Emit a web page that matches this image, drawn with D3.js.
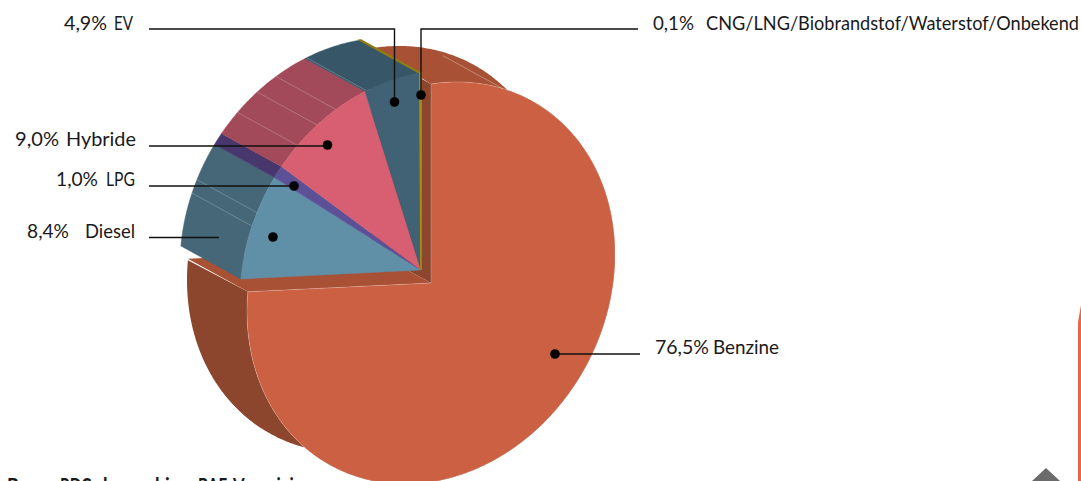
<!DOCTYPE html>
<html>
<head>
<meta charset="utf-8">
<script src="https://cdn.jsdelivr.net/npm/d3@7"></script>
<style>
  html, body { margin: 0; padding: 0; background: #fff; overflow: hidden; }
  text { font-family: Lato, sans-serif; font-size: 19px; fill: #1a1a1a; }
</style>
</head>
<body>
<div id="chart"></div>
<script>
// data, in pie order (clockwise from 12 o'clock)
let categories = ["Benzine", "Diesel", "LPG", "Hybride", "EV", "CNG/LNG/Biobrandstof/Waterstof/Onbekend"]
let shares = [76.5, 8.4, 1.0, 9.0, 4.9, 0.1]
let shareLabels = ["76,5%", "8,4%", "1,0%", "9,0%", "4,9%", "0,1%"]

let faceColors = ["#cb6042", "#6090a8", "#5c5096", "#d75f71", "#416274", "#a8900f"]
let wallColors = ["#a95135", "#456777", "#48376c", "#a24a59", "#375667", "#8f7d10"]
let benzineDark = "#8b462d"

let width = 1081, height = 481
let svg = d3.select("#chart").append("svg")
  .attr("width", width)
  .attr("height", height)
  .style("display", "block")

// pie angles
let arcs = d3.pie().sort(null)(shares)

// the picture is a sheared pie, extruded up and to the left
let depth = [-60, -33]
function projector(cx, cy, rx, ry) {
  return function (angle, r = 1) {
    let ux = Math.sin(angle) * r, uy = -Math.cos(angle) * r
    return [cx + rx * ux, cy + ry * uy - 28.6 * ux]
  }
}
let projBenzine = projector(431, 283, 184, 199)
let projSlices = projector(421, 270, 181, 197)
let line = d3.line()

function arcPoints(proj, a0, a1) {
  let n = Math.max(2, Math.ceil((a1 - a0) / 0.01))
  return d3.range(n + 1).map(i => proj(a0 + (a1 - a0) * i / n))
}
function back(p, nudge = [0, 0]) { return [p[0] + depth[0] + nudge[0], p[1] + depth[1] + nudge[1]] }
function facePath(proj, a0, a1) {
  return line([proj(0, 0), ...arcPoints(proj, a0, a1)]) + "Z"
}
// nudge widens the thin sliver of rim that shows near the tangent points
function wallPath(proj, a0, a1, nudge) {
  let pts = arcPoints(proj, a0, a1)
  return line([...pts, ...pts.slice().reverse().map(p => back(p, nudge))]) + "Z"
}
function sidePath(proj, a) {
  let c = proj(0, 0), e = proj(a)
  return line([c, e, back(e), back(c)]) + "Z"
}
function rimLine(proj, deg) {
  let p = proj(deg * Math.PI / 180)
  return line([p, back(p)])
}

let edge = "rgba(255,255,255,0.3)"

// benzine body: walls first, face on top
let b = arcs[0]
let body = svg.append("g")
body.append("path").attr("d", wallPath(projBenzine, b.startAngle, 2.1, [2, -3])).attr("fill", wallColors[0])
body.append("path").attr("d", wallPath(projBenzine, 2.1, b.endAngle, [0, 1.5])).attr("fill", benzineDark)
body.append("path").attr("d", sidePath(projBenzine, b.startAngle)).attr("fill", benzineDark)
body.append("path").attr("d", sidePath(projBenzine, b.endAngle)).attr("fill", wallColors[0])
body.append("path").attr("d", rimLine(projBenzine, 23)).attr("stroke", edge).attr("fill", "none")
body.append("path").attr("d", facePath(projBenzine, b.startAngle, b.endAngle))
  .attr("fill", faceColors[0]).attr("stroke", edge).attr("stroke-width", 0.7)

// the other slices, pulled out of the pie
let slices = svg.append("g")
let pulled = arcs.slice(1)
slices.selectAll(".wall").data(pulled).enter().append("path")
  .attr("class", "wall")
  .attr("d", d => wallPath(projSlices, d.startAngle, d.endAngle))
  .attr("fill", d => wallColors[d.index])
  .attr("stroke", d => wallColors[d.index])
  .attr("stroke-width", d => d.index == 5 ? 1.6 : 0.5)

let facetDegrees = [291, 295, 317, 325, 332, 342.5]
slices.selectAll(".facet").data(facetDegrees).enter().append("path")
  .attr("class", "facet")
  .attr("d", d => rimLine(projSlices, d))
  .attr("stroke", "rgba(255,255,255,0.22)").attr("fill", "none")

slices.selectAll(".face").data(pulled).enter().append("path")
  .attr("class", "face")
  .attr("d", d => facePath(projSlices, d.startAngle, d.endAngle))
  .attr("fill", d => faceColors[d.index])
  .attr("stroke", d => faceColors[d.index])
  .attr("stroke-width", d => d.index == 5 ? 1.6 : 0.5)

// leaders: polyline plus dot
let leaders = [
  { pts: [[149, 29], [394.5, 29], [394.5, 102]], dot: [394.5, 102] },
  { pts: [[638, 29], [421, 29], [421, 95]], dot: [421, 95] },
  { pts: [[149, 146], [327.5, 146]], dot: [327.5, 145] },
  { pts: [[149, 186], [294, 186]], dot: [294, 186] },
  { pts: [[149, 237.5], [219, 237.5]], dot: [273, 237] },
  { pts: [[640, 354], [555, 354]], dot: [555, 354] }
]
let leaderG = svg.append("g")
leaderG.selectAll("path").data(leaders).enter().append("path")
  .attr("d", d => line(d.pts))
  .attr("fill", "none").attr("stroke", "#111").attr("stroke-width", 1.4)
leaderG.selectAll("circle").data(leaders).enter().append("circle")
  .attr("cx", d => d.dot[0]).attr("cy", d => d.dot[1]).attr("r", 4.8).attr("fill", "#000")

// labels, each fitted between the x extents it has in the picture
function label(x0, x1, y, str) {
  return svg.append("text").attr("x", x0).attr("y", y)
    .attr("textLength", x1 - x0).attr("lengthAdjust", "spacingAndGlyphs").text(str)
}
label(64, 107, 30, shareLabels[4])
label(114, 133, 30, categories[4])
label(15, 59, 146, shareLabels[3])
label(66, 136, 146, categories[3])
label(56, 98, 186, shareLabels[2])
label(106, 135, 186, categories[2])
label(27, 69, 238, shareLabels[1])
label(85, 135, 238, categories[1])
label(653, 694, 30, shareLabels[5])
label(706, 1079, 30, categories[5])
label(655, 709, 354, shareLabels[0])
label(713, 779, 354, categories[0])

// source line and page furniture cut off at the edges, as in the reference
let sourceWords = ["Bron:", "RDC,", "bewerking", "BAF", "Vereniging"]
let sourceExtents = [[7, 50], [60, 95], [103, 190], [198, 227], [233, 312]]
sourceWords.forEach((w, i) => {
  label(sourceExtents[i][0], sourceExtents[i][1], 492.5, w)
    .style("font-weight", 700).style("font-size", "20px")
})
svg.append("path").attr("d", line([[1046, 468], [1060, 481], [1032, 481]]) + "Z").attr("fill", "#6b6b6b")
svg.append("path").attr("d", line([[1081, 305], [1078, 322], [1078, 481], [1081, 481]]) + "Z").attr("fill", "#e8674c")
</script>
</body>
</html>
